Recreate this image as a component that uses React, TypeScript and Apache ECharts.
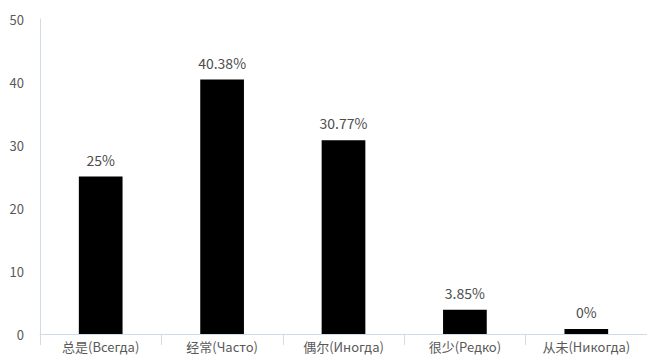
import React, { useEffect, useRef } from "react";
import * as echarts from "echarts";

const categories = ["总是(Всегда)", "经常(Часто)", "偶尔(Иногда)", "很少(Редко)", "从未(Никогда)"];
const values = [25, 40.38, 30.77, 3.85, 0];
const yTicks = { min: 0, max: 50, interval: 10 };

export default function App() {
  const ref = useRef<HTMLDivElement>(null);
  useEffect(() => {
    document.body.style.margin = "0";
    const chart = echarts.init(ref.current!, null, { renderer: "svg" });
    const font = '"Noto Sans CJK SC", "Noto Sans", sans-serif';
    chart.setOption({
      animation: false,
      grid: { left: 40, right: 0, top: 19, bottom: 29, containLabel: false },
      xAxis: {
        type: "category",
        data: categories,
        boundaryGap: true,
        axisLine: { show: true, lineStyle: { color: "#d0dbe6", width: 1 } },
        axisTick: { show: true, alignWithLabel: false, length: 11, lineStyle: { color: "#d0dbe6" } },
        axisLabel: { color: "#595959", fontSize: 13, fontFamily: font, margin: 6 },
      },
      yAxis: {
        type: "value",
        min: yTicks.min,
        max: yTicks.max,
        interval: yTicks.interval,
        axisLine: { show: true, lineStyle: { color: "#d0dbe6", width: 1 } },
        axisTick: { show: false },
        splitLine: { show: false },
        axisLabel: { color: "#595959", fontSize: 13, fontFamily: font, margin: 16 },
      },
      series: [
        {
          type: "bar",
          data: values,
          barWidth: "36%",
          barMinHeight: 5,
          itemStyle: { color: "#000000" },
          label: {
            show: true,
            position: "top",
            distance: 10,
            color: "#4d4d4d",
            fontSize: 14,
            fontFamily: font,
            formatter: (p: any) => `${p.value}%`,
          },
        },
      ],
    });
    return () => chart.dispose();
  }, []);
  return <div ref={ref} style={{ width: 647, height: 363 }} />;
}
